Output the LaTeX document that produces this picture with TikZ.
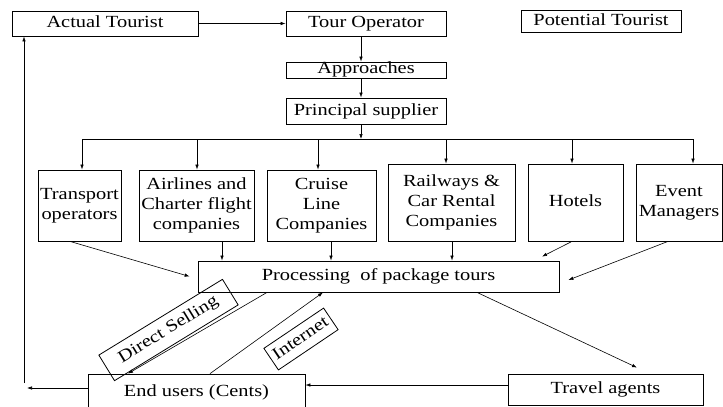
\documentclass[tikz,border=0pt]{standalone}
\usepackage{fontspec}
\usepackage{graphicx}
\setmainfont{Liberation Serif}
\usetikzlibrary{arrows.meta}
\newcommand\stx[1]{\scalebox{1.2}[1]{\begin{tabular}{@{}c@{}}#1\end{tabular}}}
\begin{document}
\begin{tikzpicture}[x=1pt,y=-1pt,
  box/.style={draw, line width=0.8pt, inner sep=1pt, align=center, font=\rmfamily\fontsize{17}{20}\selectfont},
  arr/.style={-{Latex[length=5pt,width=3.5pt]}, line width=0.6pt},
  ln/.style={line width=0.6pt}]
\useasboundingbox (0,0) rectangle (723,407);
% top row
\node[box, minimum width=186pt, minimum height=25pt] (actual) at (105,23.5) {\stx{Actual Tourist}};
\node[box, minimum width=160pt, minimum height=25pt] (tour) at (366,23.5) {\stx{Tour Operator}};
\node[box, minimum width=160pt, minimum height=21pt] (pot) at (601,21.5) {\stx{Potential Tourist}};
\node[box, minimum width=160pt, minimum height=16pt, inner sep=0pt] (appr) at (366,70) {};
\node[font=\rmfamily\fontsize{17}{20}\selectfont, inner sep=0pt] (apprt) at (366,69) {\stx{Approaches}};
\node[box, minimum width=160pt, minimum height=26pt] (princ) at (366,111) {\stx{Principal supplier}};
% suppliers
\node[box, minimum width=83pt, minimum height=71pt] (trans) at (79.5,205.5) {\stx{Transport\\operators}};
\node[box, minimum width=115pt, minimum height=71pt] (air) at (196.5,205.5) {\stx{Airlines and\\Charter flight\\companies}};
\node[box, minimum width=109pt, minimum height=71pt] (cruise) at (321.5,205.5) {\stx{Cruise\\Line\\Companies}};
\node[box, minimum width=127pt, minimum height=77pt] (rail) at (451.5,202.5) {\stx{Railways \&\\Car Rental\\Companies}};
\node[box, minimum width=95pt, minimum height=77pt] (hotels) at (575.5,202.5) {\stx{Hotels}};
\node[box, minimum width=86pt, minimum height=77pt] (event) at (679,202.5) {\stx{Event\\Managers}};
% processing and below
\node[box, minimum width=361pt, minimum height=31pt] (proc) at (378.5,276.5) {\stx{Processing~ of package tours}};
\node[box, minimum width=195pt, minimum height=31pt] (ta) at (605.5,389.5) {\stx{Travel agents}};
\node[box, minimum width=217pt, minimum height=36pt] (eu) at (196.5,392) {\stx{End users (Cents)}};
\node[box, rotate=31.5, minimum width=145pt, minimum height=30pt] (ds) at (168.5,330) {\stx{Direct Selling}};
\node[box, rotate=34, minimum width=72pt, minimum height=26pt] (inet) at (301,339) {\stx{Internet}};
% connectors top
\draw[arr] (actual.east) -- (tour.west);
\coordinate (bus) at (361,139);
\draw[arr] (tour.south -| bus) -- (appr.north -| bus);
\draw[arr] (appr.south -| bus) -- (princ.north -| bus);
\draw[arr] (princ.south -| bus) -- (bus);
\coordinate (b1) at (82,139);
\coordinate (b2) at (197,139);
\coordinate (b3) at (318,139);
\coordinate (b4) at (446,139);
\coordinate (b5) at (572,139);
\coordinate (b6) at (693,139);
\draw[ln] (b1) -- (b6);
\draw[arr] (b1) -- (b1 |- trans.north);
\draw[arr] (b2) -- (b2 |- air.north);
\draw[arr] (b3) -- (b3 |- cruise.north);
\draw[arr] (b4) -- (b4 |- rail.north);
\draw[arr] (b5) -- (b5 |- hotels.north);
\draw[arr] (b6) -- (b6 |- event.north);
% into processing
\coordinate (x2) at (222,0);
\coordinate (x3) at (331,0);
\coordinate (x4) at (452,0);
\draw[arr] (air.south -| x2) -- (proc.north -| x2);
\draw[arr] (cruise.south -| x3) -- (proc.north -| x3);
\draw[arr] (rail.south -| x4) -- (proc.north -| x4);
\draw[arr] ([xshift=-9.5pt]trans.south) -- ([xshift=-8pt]proc.west);
\draw[arr] ([xshift=-3.5pt]hotels.south) -- ([xshift=163.5pt,yshift=4pt]proc.north);
\draw[arr] ([xshift=-11pt]event.south) -- ([xshift=9pt,yshift=-3.5pt]proc.east);
% below processing
\draw[arr] ([xshift=98.5pt]proc.south) -- ([xshift=31.5pt,yshift=6pt]ta.north);
\draw[arr] ([yshift=4.5pt]ta.west) -- ([yshift=4.5pt]ta.west -| eu.east);
\draw[arr] ([xshift=-111.5pt]proc.south) -- ([xshift=-68.5pt]eu.north);
\draw[arr] ([xshift=13.5pt]eu.north) -- ([xshift=-55.5pt]proc.south);
% loop back to actual tourist
\coordinate (lft) at (27,388);
\draw[arr] (eu.west |- lft) -- (lft);
\coordinate (lb) at (24,383);
\draw[arr] (lb) -- (lb |- actual.south);
\end{tikzpicture}
\end{document}
